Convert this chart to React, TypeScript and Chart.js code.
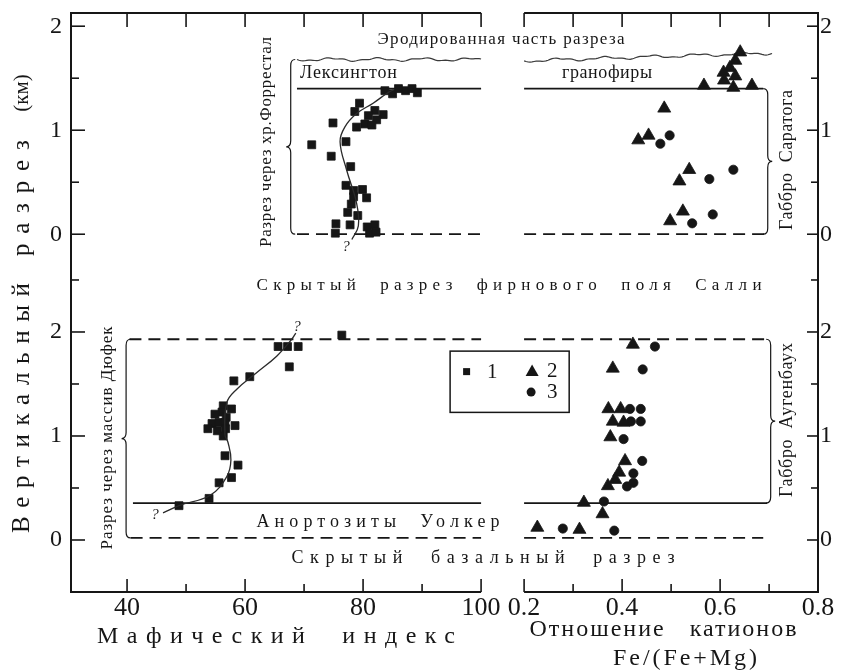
import React, { useEffect, useRef } from 'react';
import { Chart, registerables } from 'chart.js';

Chart.register(...registerables);

const FONT = '"Liberation Serif", "Times New Roman", Times, serif';
const INK = '#161616';

// ---------- virtual axes: two panels side by side, two sections stacked ----------
const X_MIN = 30.5;
const X_MAX = 157.1;
const RATIO_BASE = 107.29; // virtual x where Fe/(Fe+Mg) = 0.2
const RATIO_K = 83.05; // virtual units per 1.0 of Fe/(Fe+Mg)
const Y_MIN = -0.5;
const Y_MAX = 5.067;
const UPPER_OFFSET = 2.94; // upper section (Forrestal / Saratoga) base in virtual km

const fromRatio = (r: number) => RATIO_BASE + (r - 0.2) * RATIO_K;
const fromUpper = (u: number) => u + UPPER_OFFSET;

// ---------- tick values and labels ----------
const maficMajor = [40, 60, 80, 100];
const maficMinor = [50, 70, 90];
const maficLabels = ['40', '60', '80', '100'];
const ratioMajor = [0.2, 0.4, 0.6, 0.8];
const ratioMinor = [0.3, 0.5, 0.7];
const ratioLabels = ['0.2', '0.4', '0.6', '0.8'];
const heightMajor = [0, 1, 2];
const heightLabels = ['0', '1', '2'];
const lowerMinor = [0.5, 1.5, 2.5];
const upperMinor = [0.5, 1.5];

// ---------- upper section: Forrestal range (squares) ----------
const forrestalMafic = [83.7, 85.0, 86.0, 87.2, 88.3, 89.2, 79.4, 78.6, 82.0, 80.9, 83.4, 82.3, 74.9, 80.3, 78.9, 81.5, 77.1, 71.3, 74.6, 77.9, 77.1, 78.4, 79.9, 78.4, 80.6, 78.0, 77.4, 79.1, 75.4, 77.8, 80.7, 82.0, 75.3, 81.1, 82.2];
const forrestalHeight = [1.38, 1.35, 1.40, 1.38, 1.40, 1.36, 1.26, 1.18, 1.19, 1.14, 1.15, 1.10, 1.07, 1.06, 1.03, 1.05, 0.89, 0.86, 0.75, 0.65, 0.47, 0.42, 0.43, 0.36, 0.35, 0.29, 0.21, 0.18, 0.10, 0.09, 0.07, 0.09, 0.01, 0.01, 0.02];
const forrestalTrendMafic = [78.1, 79.2, 78.9, 77.2, 76.1, 76.9, 78.9, 81.7, 84.2, 85.2];
const forrestalTrendHeight = [-0.05, 0.08, 0.30, 0.62, 0.89, 1.03, 1.16, 1.26, 1.36, 1.39];

// upper section: Fe/(Fe+Mg) triangles (2) and circles (3)
const upperTriRatio = [0.641, 0.631, 0.620, 0.607, 0.631, 0.608, 0.627, 0.567, 0.665, 0.486, 0.454, 0.433, 0.537, 0.517, 0.524, 0.498];
const upperTriHeight = [1.75, 1.67, 1.60, 1.555, 1.52, 1.48, 1.41, 1.43, 1.43, 1.21, 0.95, 0.905, 0.62, 0.51, 0.22, 0.127];
const upperCircRatio = [0.497, 0.478, 0.627, 0.578, 0.585, 0.543];
const upperCircHeight = [0.95, 0.87, 0.62, 0.53, 0.19, 0.105];

// ---------- lower section: Dufek massif (squares) ----------
const dufekMafic = [76.4, 65.6, 67.2, 69.0, 67.5, 60.8, 58.1, 56.3, 57.7, 56.1, 54.9, 56.8, 54.4, 55.6, 56.6, 53.7, 55.3, 56.7, 58.3, 56.3, 56.6, 58.8, 57.7, 55.6, 53.9, 48.8];
const dufekHeight = [1.97, 1.86, 1.86, 1.86, 1.665, 1.57, 1.53, 1.29, 1.26, 1.23, 1.21, 1.18, 1.12, 1.13, 1.13, 1.07, 1.05, 1.07, 1.10, 1.00, 0.81, 0.72, 0.60, 0.55, 0.40, 0.33];
const dufekTrendMafic = [46.1, 48.8, 54.1, 56.9, 57.6, 57.1, 56.6, 56.9, 58.6, 62.0, 65.4, 67.9, 68.6];
const dufekTrendHeight = [0.26, 0.33, 0.43, 0.61, 0.77, 0.94, 1.01, 1.32, 1.45, 1.61, 1.77, 1.93, 1.99];

// lower section: Fe/(Fe+Mg)
const lowerTriRatio = [0.422, 0.381, 0.372, 0.397, 0.381, 0.403, 0.376, 0.406, 0.394, 0.386, 0.371, 0.322, 0.360, 0.227, 0.313];
const lowerTriHeight = [1.88, 1.65, 1.26, 1.26, 1.14, 1.13, 0.99, 0.76, 0.65, 0.58, 0.52, 0.36, 0.25, 0.12, 0.10];
const lowerCircRatio = [0.467, 0.442, 0.416, 0.438, 0.418, 0.438, 0.403, 0.441, 0.423, 0.423, 0.410, 0.363, 0.279, 0.384];
const lowerCircHeight = [1.86, 1.64, 1.26, 1.26, 1.14, 1.14, 0.97, 0.76, 0.64, 0.55, 0.515, 0.37, 0.11, 0.09];

// ---------- stratigraphic boundaries (km in each section) ----------
const UPPER_ERODED_L = 1.68;
const UPPER_ERODED_R = [1.667, 1.743];
const UPPER_GRANOPHYRE = 1.40;
const UPPER_BASE = 0.0;
const LOWER_TOP = 1.93;
const LOWER_WALKER = 0.355;
const LOWER_BASE = 0.02;

const xTickValues = [...maficMajor, ...ratioMajor.map(fromRatio)];
const xTickLabels = [...maficLabels, ...ratioLabels];
const yTickValues = [...heightMajor, ...heightMajor.map(fromUpper)];
const yTickLabels = [...heightLabels, ...heightLabels];

const pts = (xs: number[], ys: number[], fx: (v: number) => number, fy: (v: number) => number) =>
  xs.map((v, i) => ({ x: fx(v), y: fy(ys[i]) }));
const id = (v: number) => v;

function drawText(
  ctx: CanvasRenderingContext2D,
  text: string,
  cx: number,
  cy: number,
  size: number,
  opts: { width?: number; rotate?: number; align?: 'left' | 'center'; italic?: boolean } = {}
) {
  ctx.save();
  ctx.font = `${opts.italic ? 'italic ' : ''}${size}px ${FONT}`;
  ctx.fillStyle = INK;
  ctx.textBaseline = 'middle';
  ctx.textAlign = 'left';
  const anyCtx = ctx as any;
  const n = Array.from(text).length;
  if ('letterSpacing' in anyCtx) anyCtx.letterSpacing = '0px';
  const natural = ctx.measureText(text).width;
  const spacing = opts.width != null && n > 1 ? (opts.width - natural) / (n - 1) : 0;
  const visible = natural + spacing * (n - 1);
  ctx.translate(cx, cy);
  if (opts.rotate) ctx.rotate(opts.rotate);
  const x0 = opts.align === 'left' ? 0 : -visible / 2;
  if ('letterSpacing' in anyCtx) {
    anyCtx.letterSpacing = `${spacing}px`;
    ctx.fillText(text, x0, 0);
  } else {
    let x = x0;
    for (const c of Array.from(text)) {
      ctx.fillText(c, x, 0);
      x += ctx.measureText(c).width + spacing;
    }
  }
  ctx.restore();
}

function line(ctx: CanvasRenderingContext2D, x1: number, y1: number, x2: number, y2: number) {
  ctx.beginPath();
  ctx.moveTo(x1, y1);
  ctx.lineTo(x2, y2);
  ctx.stroke();
}

function wavy(ctx: CanvasRenderingContext2D, x1: number, y1: number, x2: number, y2: number) {
  ctx.beginPath();
  const n = Math.ceil(Math.abs(x2 - x1) / 2);
  for (let i = 0; i <= n; i++) {
    const t = i / n;
    const x = x1 + (x2 - x1) * t;
    const y = y1 + (y2 - y1) * t + 1.3 * Math.sin(((x - x1) / 46) * 2 * Math.PI) + 0.6 * Math.sin(((x - x1) / 17) * 2 * Math.PI);
    if (i === 0) ctx.moveTo(x, y);
    else ctx.lineTo(x, y);
  }
  ctx.stroke();
}

function brace(ctx: CanvasRenderingContext2D, x: number, y1: number, y2: number, dir: number) {
  const w = 9;
  const h = w / 2;
  const r = 6;
  const ym = (y1 + y2) / 2;
  ctx.beginPath();
  ctx.moveTo(x, y1);
  ctx.quadraticCurveTo(x + dir * h, y1, x + dir * h, y1 + r);
  ctx.lineTo(x + dir * h, ym - r);
  ctx.quadraticCurveTo(x + dir * h, ym, x + dir * w, ym);
  ctx.quadraticCurveTo(x + dir * h, ym, x + dir * h, ym + r);
  ctx.lineTo(x + dir * h, y2 - r);
  ctx.quadraticCurveTo(x + dir * h, y2, x, y2);
  ctx.stroke();
}

const figurePlugin = {
  id: 'figure',
  beforeDraw(chart: any) {
    const { ctx, width, height } = chart;
    ctx.save();
    ctx.fillStyle = '#ffffff';
    ctx.fillRect(0, 0, width, height);
    ctx.restore();
  },
  beforeDatasetsDraw(chart: any) {
    const ctx: CanvasRenderingContext2D = chart.ctx;
    const a = chart.chartArea;
    const xs = chart.scales.x;
    const ys = chart.scales.y;
    const PM = (m: number) => xs.getPixelForValue(m);
    const PR = (r: number) => xs.getPixelForValue(fromRatio(r));
    const PU = (u: number) => ys.getPixelForValue(fromUpper(u));
    const PL = (l: number) => ys.getPixelForValue(l);
    const L = a.left, R = a.right, T = a.top, B = a.bottom;
    const breakL = PM(100);
    const breakR = PR(0.2);

    ctx.save();
    ctx.strokeStyle = INK;
    ctx.lineCap = 'butt';

    // frame (broken at the panel gap)
    ctx.lineWidth = 2;
    line(ctx, L, T - 1, L, B + 1);
    line(ctx, R, T - 1, R, B + 1);
    line(ctx, L, T, breakL, T);
    line(ctx, breakR, T, R, T);
    line(ctx, L, B, breakL, B);
    line(ctx, breakR, B, R, B);

    // ticks (inside)
    ctx.lineWidth = 1.6;
    [...maficMajor, ...maficMinor].forEach((m) => line(ctx, PM(m), T, PM(m), T + 14));
    [...ratioMajor.slice(0, 3), ...ratioMinor].forEach((r) => line(ctx, PR(r), T, PR(r), T + 14));
    maficMajor.forEach((m) => line(ctx, PM(m), B, PM(m), B - 13));
    maficMinor.forEach((m) => line(ctx, PM(m), B, PM(m), B - 8));
    ratioMajor.slice(0, 3).forEach((r) => line(ctx, PR(r), B, PR(r), B - 13));
    ratioMinor.forEach((r) => line(ctx, PR(r), B, PR(r), B - 8));
    heightMajor.forEach((h) => {
      line(ctx, L, PL(h), L + 14, PL(h));
      line(ctx, L, PU(h), L + 14, PU(h));
      line(ctx, R, PL(h), R - 11, PL(h));
      line(ctx, R, PU(h), R - 11, PU(h));
    });
    lowerMinor.forEach((h) => {
      line(ctx, L, PL(h), L + 8, PL(h));
      line(ctx, R, PL(h), R - 7, PL(h));
    });
    upperMinor.forEach((h) => {
      line(ctx, L, PU(h), L + 8, PU(h));
      line(ctx, R, PU(h), R - 7, PU(h));
    });

    // eroded top (wavy)
    ctx.strokeStyle = '#3a3a3a';
    ctx.lineWidth = 1.2;
    wavy(ctx, PM(68.8), PU(UPPER_ERODED_L), PM(100), PU(UPPER_ERODED_L));
    wavy(ctx, PR(0.2), PU(UPPER_ERODED_R[0]), PR(0.706), PU(UPPER_ERODED_R[1]));

    // solid boundaries
    ctx.strokeStyle = INK;
    ctx.lineWidth = 1.8;
    line(ctx, PM(68.8), PU(UPPER_GRANOPHYRE), PM(100), PU(UPPER_GRANOPHYRE));
    line(ctx, PR(0.2), PU(UPPER_GRANOPHYRE), PR(0.688), PU(UPPER_GRANOPHYRE));
    line(ctx, PM(41), PL(LOWER_WALKER), PM(100), PL(LOWER_WALKER));
    line(ctx, PR(0.2), PL(LOWER_WALKER), PR(0.696), PL(LOWER_WALKER));

    // dashed boundaries
    ctx.setLineDash([12, 7]);
    line(ctx, PM(68.8), PU(UPPER_BASE), PM(100), PU(UPPER_BASE));
    line(ctx, PR(0.2), PU(UPPER_BASE), PR(0.692), PU(UPPER_BASE));
    line(ctx, PM(40.4), PL(LOWER_TOP), PM(100), PL(LOWER_TOP));
    line(ctx, PR(0.2), PL(LOWER_TOP), PR(0.696), PL(LOWER_TOP));
    line(ctx, PM(40.6), PL(LOWER_BASE), PM(100), PL(LOWER_BASE));
    line(ctx, PR(0.2), PL(LOWER_BASE), PR(0.688), PL(LOWER_BASE));
    ctx.setLineDash([]);

    // braces
    ctx.lineWidth = 1.2;
    brace(ctx, PM(68.5), PU(UPPER_ERODED_L), PU(UPPER_BASE), -1);
    brace(ctx, PM(40.6), PL(LOWER_TOP), PL(LOWER_BASE), -1);
    brace(ctx, PR(0.688), PU(UPPER_GRANOPHYRE), PU(UPPER_BASE), 1);
    brace(ctx, PR(0.694), PL(LOWER_TOP), PL(LOWER_WALKER), 1);

    // legend box
    const bx1 = PM(94.75), bx2 = PR(0.292), by1 = PL(1.816), by2 = PL(1.227);
    ctx.lineWidth = 1.5;
    ctx.strokeRect(bx1, by1, bx2 - bx1, by2 - by1);
    ctx.fillStyle = INK;
    ctx.fillRect(bx1 + 13, by1 + 17, 7, 7);
    const tx = bx1 + 82, ty = by1 + 21;
    ctx.beginPath();
    ctx.moveTo(tx, ty - 7.5);
    ctx.lineTo(tx + 6.5, ty + 4);
    ctx.lineTo(tx - 6.5, ty + 4);
    ctx.closePath();
    ctx.fill();
    ctx.beginPath();
    ctx.arc(bx1 + 81, by1 + 41, 4.5, 0, Math.PI * 2);
    ctx.fill();
    drawText(ctx, '1', bx1 + 37, by1 + 21, 21, { align: 'left' });
    drawText(ctx, '2', bx1 + 97, by1 + 20, 21, { align: 'left' });
    drawText(ctx, '3', bx1 + 97, by1 + 41, 21, { align: 'left' });

    // annotations
    drawText(ctx, 'Эродированная часть разреза', 501, 40, 17, { width: 247 });
    drawText(ctx, 'Лексингтон', 300, 73, 18, { align: 'left', width: 97 });
    drawText(ctx, 'гранофиры', 607, 73, 18, { width: 90 });
    drawText(ctx, 'Скрытый  разрез  фирнового  поля  Салли', 509, 286, 17, { width: 505 });
    drawText(ctx, 'Анортозиты  Уолкер', 378, 522, 18, { width: 243 });
    drawText(ctx, 'Скрытый  базальный  разрез', 483, 558, 18, { width: 383 });
    drawText(ctx, 'Разрез через хр.Форрестал', 267, 142, 17, { width: 210, rotate: -Math.PI / 2 });
    drawText(ctx, 'Разрез через массив Дюфек', 108, 438, 17, { width: 223, rotate: -Math.PI / 2 });
    drawText(ctx, 'Габбро  Саратога', 787, 160, 18, { width: 140, rotate: -Math.PI / 2 });
    drawText(ctx, 'Габбро  Аугенбаух', 787, 420, 18, { width: 154, rotate: -Math.PI / 2 });
    drawText(ctx, '?', 346, 247, 15, { italic: true });
    drawText(ctx, '?', 155, 515, 15, { italic: true });
    drawText(ctx, '?', 297, 327, 15, { italic: true });

    // axis titles
    drawText(ctx, 'Вертикальный', 22, 408, 25, { width: 250, rotate: -Math.PI / 2 });
    drawText(ctx, 'разрез', 22, 198, 25, { width: 116, rotate: -Math.PI / 2 });
    drawText(ctx, '(км)', 22, 93, 21, { rotate: -Math.PI / 2 });
    drawText(ctx, 'Мафический  индекс', 276, 637, 24, { width: 358 });
    drawText(ctx, 'Отношение   катионов', 663, 630, 24, { width: 267 });
    drawText(ctx, 'Fe/(Fe+Mg)', 685, 659, 24, { width: 144 });

    ctx.restore();
  },
};

export default function App() {
  const ref = useRef<HTMLCanvasElement | null>(null);

  useEffect(() => {
    document.body.style.margin = '0';
    document.body.style.overflow = 'hidden';
    const canvas = ref.current;
    if (!canvas) return;

    const markerBase = {
      showLine: false,
      backgroundColor: INK,
      borderColor: INK,
      pointBackgroundColor: INK,
      pointBorderColor: INK,
      pointBorderWidth: 0.8,
      pointHoverRadius: 0,
    };
    const trendBase = {
      showLine: true,
      tension: 0.4,
      pointRadius: 0,
      pointHoverRadius: 0,
      borderColor: '#2a2a2a',
      borderWidth: 1.3,
      fill: false,
    };

    const tickFont = { family: FONT, size: 24 };
    const zeroPad = (s: any) => {
      s.paddingTop = 0;
      s.paddingBottom = 0;
      s.paddingLeft = 0;
      s.paddingRight = 0;
    };

    const chart = new Chart(canvas, {
      type: 'scatter',
      data: {
        datasets: [
          { ...trendBase, label: 'trend upper', data: pts(forrestalTrendMafic, forrestalTrendHeight, id, fromUpper) },
          { ...trendBase, label: 'trend lower', data: pts(dufekTrendMafic, dufekTrendHeight, id, id) },
          { ...markerBase, label: '1', pointStyle: 'rect', pointRadius: 5.6, data: pts(forrestalMafic, forrestalHeight, id, fromUpper) },
          { ...markerBase, label: '1 ', pointStyle: 'rect', pointRadius: 5.6, data: pts(dufekMafic, dufekHeight, id, id) },
          { ...markerBase, label: '2', pointStyle: 'triangle', pointRadius: 7.5, data: pts(upperTriRatio, upperTriHeight, fromRatio, fromUpper) },
          { ...markerBase, label: '2 ', pointStyle: 'triangle', pointRadius: 7.5, data: pts(lowerTriRatio, lowerTriHeight, fromRatio, id) },
          { ...markerBase, label: '3', pointStyle: 'circle', pointRadius: 4.6, data: pts(upperCircRatio, upperCircHeight, fromRatio, fromUpper) },
          { ...markerBase, label: '3 ', pointStyle: 'circle', pointRadius: 4.6, data: pts(lowerCircRatio, lowerCircHeight, fromRatio, id) },
        ],
      },
      options: {
        responsive: false,
        animation: false,
        devicePixelRatio: 1,
        layout: { padding: { top: 13, left: 0, right: 0, bottom: 0 } },
        plugins: { legend: { display: false }, tooltip: { enabled: false } },
        events: [],
        scales: {
          x: {
            type: 'linear',
            position: 'bottom',
            min: X_MIN,
            max: X_MAX,
            grid: { display: false, drawTicks: false },
            border: { display: false },
            afterBuildTicks: (s: any) => {
              s.ticks = xTickValues.map((v) => ({ value: v }));
            },
            ticks: {
              autoSkip: false,
              maxRotation: 0,
              padding: 1,
              color: INK,
              font: { family: FONT, size: 26 },
              callback: (_v: any, i: number) => xTickLabels[i],
            },
            afterFit: (s: any) => {
              s.height = 80;
              zeroPad(s);
            },
          },
          y: {
            type: 'linear',
            position: 'left',
            min: Y_MIN,
            max: Y_MAX,
            grid: { display: false, drawTicks: false },
            border: { display: false },
            afterBuildTicks: (s: any) => {
              s.ticks = yTickValues.map((v) => ({ value: v }));
            },
            ticks: {
              autoSkip: false,
              padding: 9,
              color: INK,
              font: tickFont,
              callback: (_v: any, i: number) => yTickLabels[i],
            },
            afterFit: (s: any) => {
              s.width = 71;
              zeroPad(s);
            },
          },
          y2: {
            type: 'linear',
            position: 'right',
            min: Y_MIN,
            max: Y_MAX,
            grid: { display: false, drawTicks: false },
            border: { display: false },
            afterBuildTicks: (s: any) => {
              s.ticks = yTickValues.map((v) => ({ value: v }));
            },
            ticks: {
              autoSkip: false,
              padding: 2,
              color: INK,
              font: tickFont,
              callback: (_v: any, i: number) => yTickLabels[i],
            },
            afterFit: (s: any) => {
              s.width = 23;
              zeroPad(s);
            },
          },
        },
      } as any,
      plugins: [figurePlugin as any],
    });

    return () => chart.destroy();
  }, []);

  return (
    <div style={{ width: 841, height: 672, background: '#fff', overflow: 'hidden' }}>
      <canvas ref={ref} width={841} height={672} style={{ display: 'block' }} />
    </div>
  );
}
